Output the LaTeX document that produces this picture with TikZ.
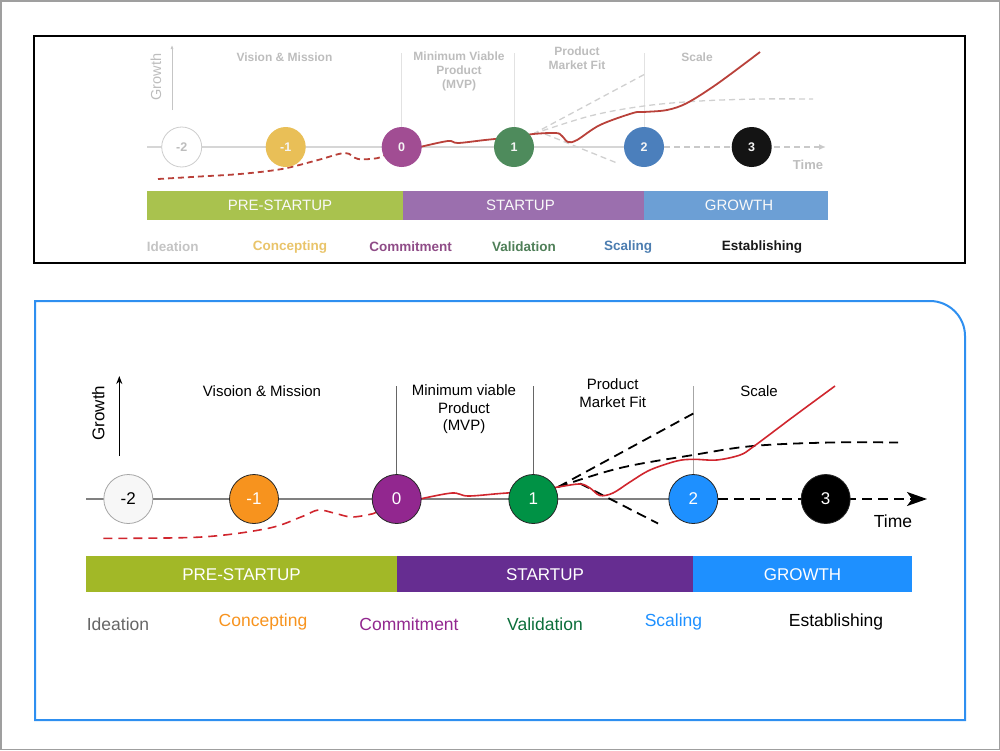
\documentclass[tikz,border=0pt]{standalone}
\usepackage{fontspec}
\setmainfont{Liberation Sans}
\usetikzlibrary{arrows.meta}
\definecolor{tgtext}{HTML}{BDBDBD}
\definecolor{tline}{HTML}{D6D6D6}
\definecolor{tdash}{HTML}{D0D0D0}
\definecolor{tred}{HTML}{B9413A}
\definecolor{tyellow}{HTML}{E9BF57}
\definecolor{tpurple}{HTML}{A14D93}
\definecolor{tgreen}{HTML}{4E8B5C}
\definecolor{tblue}{HTML}{4B7FBC}
\definecolor{tbargreen}{HTML}{A9C24E}
\definecolor{tbarpurple}{HTML}{9B6FAE}
\definecolor{tbarblue}{HTML}{6C9FD5}
\definecolor{tlcon}{HTML}{E9C46A}
\definecolor{tlcom}{HTML}{8F4C87}
\definecolor{tlval}{HTML}{4F7F58}
\definecolor{tlsca}{HTML}{4C7DB0}
\definecolor{bframe}{HTML}{2E8FF0}
\definecolor{bred}{HTML}{D0262E}
\definecolor{borange}{HTML}{F7931E}
\definecolor{bpurple}{HTML}{92278F}
\definecolor{bgreen}{HTML}{009245}
\definecolor{bblue}{HTML}{1E90FF}
\definecolor{bbargreen}{HTML}{A2B827}
\definecolor{bbarpurple}{HTML}{662D91}
\definecolor{bvalid}{HTML}{0B6E3A}
\begin{document}
\begin{tikzpicture}[x=1pt,y=-1pt,
  ttext/.style={text=tgtext,font=\bfseries\fontsize{12}{14}\selectfont,align=center,inner sep=0pt},
  tcirc/.style={circle,minimum size=40pt,inner sep=0pt,text=white!92!gray,font=\bfseries\fontsize{12.5}{14}\selectfont},
  tbar/.style={minimum height=29.7pt,inner sep=0pt,text=white!95!gray,font=\fontsize{15}{17}\selectfont},
  tlab/.style={font=\bfseries\fontsize{13.5}{15}\selectfont,inner sep=0pt},
  btext/.style={text=black,font=\fontsize{15}{17.5}\selectfont,align=center,inner sep=0pt},
  bcirc/.style={circle,minimum size=49pt,inner sep=0pt,draw=black!85,line width=0.8pt,text=white,font=\fontsize{17}{19}\selectfont},
  bbar/.style={minimum height=36.3pt,inner sep=0pt,text=white,font=\fontsize{17}{19}\selectfont},
  blab/.style={font=\fontsize{17.5}{19}\selectfont,inner sep=0pt},
  tdashed/.style={dash pattern=on 6pt off 4pt},
  bdashed/.style={dash pattern=on 10pt off 6pt}
]
\useasboundingbox (0,0) rectangle (1000,750);
% outer frame
\draw[gray!75,line width=1.5pt] (0.75,0.75) rectangle (999.25,749.25);

% ================= TOP PANEL =================
\draw[black,line width=1.2pt] (34,36) rectangle (965,263);

% growth axis
\coordinate (tgb) at (172,110);
\coordinate (tgt) at (172,45);
\draw[tline!80!gray,line width=0.7pt,-{Latex[length=4pt,width=3pt]}] (tgb) -- (tgt);
\node[text=tgtext,font=\fontsize{14.5}{16}\selectfont,rotate=90,inner sep=0pt] (tgrowth) at (156,77) {Growth};

% time axis
\coordinate (tax0) at (147,147);
\coordinate (taxe) at (826,147);
\draw[tline,line width=1.5pt] (tax0) -- (644,147);

% vertical lines
\coordinate (tv0) at (401.7,53);
\coordinate (tv1) at (514,53);
\coordinate (tv2) at (644,53);
\draw[tline!70,line width=0.8pt] (tv0) -- (401.7,130);
\draw[tline!70,line width=0.8pt] (tv1) -- (514,130);
\draw[tline!70,line width=0.8pt] (tv2) -- (644,130);

% labels
\node[ttext] (tvm) at (284.5,57) {Vision \& Mission};
\node[ttext] (tmvp) at (459,71) {Minimum Viable\\Product\\(MVP)};
\node[ttext] (tpmf) at (577,58) {Product\\Market Fit};
\node[ttext] (tscale) at (697,57) {Scale};

% gray dashed alternatives
\draw[tdash,line width=1.3pt,tdashed] (533,134) -- (647,73);
\draw[tdash,line width=1.3pt,tdashed] plot[smooth,tension=0.6] coordinates {(533,134) (590,116) (644,106) (700,101) (760,99) (813,99)};
\draw[tdash,line width=1.3pt,tdashed] (545,134) -- (617,163);

% red curves
\draw[tred,line width=1.8pt,line join=round] plot[smooth,tension=0.55] coordinates {(420,147) (448,141) (458,143) (485,140) (514,137) (533,134) (556,133) (562,136) (568,142) (577,140) (600,125) (633,113) (644,112) (667,110) (687,103) (717,84) (760,52)};
\draw[tred,line width=1.8pt,tdashed] plot[smooth,tension=0.55] coordinates {(158,179) (200,176.5) (240,174) (282,169) (318,160) (345,153) (358,159) (378,158) (388,153)};

% circles
\node[tcirc,fill=white,draw=tline!90!gray,line width=0.8pt,text=tgtext] (tcm2) at (181.7,147) {-2};
\node[tcirc,fill=tyellow] (tcm1) at (285.7,147) {-1};
\node[tcirc,fill=tpurple] (tc0) at (401.7,147) {0};
\node[tcirc,fill=tgreen] (tc1) at (514,147) {1};
\node[tcirc,fill=tblue] (tc2) at (644,147) {2};
\draw[tline!85!gray,line width=1.5pt,tdashed,-{Latex[length=7pt,width=6pt]}] (tc2.east) -- (taxe);
\node[tcirc,fill=black!92] (tc3) at (751.7,147) {3};
\node[text=tgtext,font=\bfseries\fontsize{13}{15}\selectfont,inner sep=0pt] (ttime) at (808,165) {Time};

% bars
\node[tbar,fill=tbargreen,minimum width=256pt] (tpre) at (275,205.6) {\hspace*{10pt}PRE-STARTUP};
\node[tbar,fill=tbarpurple,minimum width=241pt] (tstart) at (523.5,205.6) {\hspace*{-6pt}STARTUP};
\node[tbar,fill=tbarblue,minimum width=184pt] (tgrow) at (736,205.6) {\hspace*{6pt}GROWTH};

% stage labels
\node[tlab,text=tgtext!90!white] (tide) at (172.7,247) {Ideation};
\node[tlab,text=tlcon] (tcon) at (290,247) {Concepting};
\node[tlab,text=tlcom] (tcom) at (410.5,247) {Commitment};
\node[tlab,text=tlval] (tval) at (524,247) {Validation};
\node[tlab,text=tlsca] (tsca) at (628,247) {Scaling};
\node[tlab,text=black!90] (test) at (762,247) {Establishing};

% ================= BOTTOM PANEL =================
\draw[bframe,line width=2pt] (35,720) -- (35,301) -- (930,301) .. controls (949.3,301) and (965,316.7) .. (965,336) -- (965,720) -- cycle;

% growth axis
\coordinate (bgb) at (119.3,456);
\coordinate (bgt) at (119.3,376);
\draw[black,line width=1.3pt,-{Stealth[length=8pt,width=6pt]}] (bgb) -- (bgt);
\node[text=black,font=\fontsize{17}{19}\selectfont,rotate=90,inner sep=0pt] (bgrowth) at (98.3,413) {Growth};

% time axis
\coordinate (bax0) at (86,499);
\coordinate (baxe) at (927,499);
\draw[black!50,line width=1.2pt] (bax0) -- (693.3,499);

% vertical lines
\coordinate (bv0) at (396.7,386);
\coordinate (bv1) at (533.3,386);
\coordinate (bv2) at (693.3,386);
\draw[black!60,line width=0.8pt] (bv0) -- (396.7,480);
\draw[black!60,line width=0.8pt] (bv1) -- (533.3,480);
\draw[black!35,line width=1pt] (bv2) -- (693.3,480);

% labels
\node[btext] (bvm) at (262,391.5) {Visoion \& Mission};
\node[btext,font=\fontsize{15}{17.5}\selectfont] (bmvp) at (464,409.5) {Minimum viable\\Product\\(MVP)};
\node[btext,font=\fontsize{15}{18}\selectfont] (bpmf) at (612.7,393) {Product\\Market Fit};
\node[btext] (bscale) at (759,391.5) {Scale};

% black dashed alternatives
\draw[black,line width=1.8pt,bdashed] (558,487) -- (697,411.5);
\draw[black,line width=1.8pt,bdashed] plot[smooth,tension=0.6] coordinates {(558,487) (620,468) (693,455) (753,446) (830,442.5) (898,442.5)};
\draw[black,line width=1.8pt,bdashed] (580,483.5) -- (658,523.5);

% red curves
\draw[bred,line width=1.6pt,line join=round] plot[smooth,tension=0.55] coordinates {(420,499) (452,493) (468,496) (500,493.5) (533,491) (558,487) (580,484) (590,488) (600,495.5) (613,493) (630,482) (650,470) (676.7,461) (693.3,459.3) (716.7,460) (740,455) (753.3,446.7) (793.3,416.7) (835,386)};
\draw[bred,line width=1.6pt,dash pattern=on 9pt off 6pt] plot[smooth,tension=0.55] coordinates {(103.3,538.3) (201.7,537) (268.3,528.3) (301.7,516.7) (318.3,510) (335,513.3) (351.7,517) (371.7,514) (376,512)};

% circles
\node[bcirc,fill=white!97!black,draw=black!35,text=black] (bcm2) at (128.3,499) {-2};
\node[bcirc,fill=borange] (bcm1) at (254,499) {-1};
\node[bcirc,fill=bpurple] (bc0) at (396.7,499) {0};
\node[bcirc,fill=bgreen] (bc1) at (533.3,499) {1};
\node[bcirc,fill=bblue] (bc2) at (693.3,499) {2};
\draw[black,line width=1.8pt,bdashed,-{Stealth[length=20pt,width=14pt,inset=5pt]}] (bc2.east) -- (baxe);
\node[bcirc,fill=black] (bc3) at (825.7,499) {3};
\node[text=black,font=\fontsize{17.5}{19}\selectfont,inner sep=0pt] (btime) at (893,521.7) {Time};

% bars
\node[bbar,fill=bbargreen,minimum width=311pt] (bpre) at (241.5,574.2) {PRE-STARTUP};
\node[bbar,fill=bbarpurple,minimum width=296pt] (bstart) at (545,574.2) {STARTUP};
\node[bbar,fill=bblue,minimum width=219pt] (bgrow) at (802.5,574.2) {GROWTH};

% stage labels
\node[blab,text=black!60] (bide) at (118,624) {Ideation};
\node[blab,text=borange] (bcon) at (263,622) {Concepting};
\node[blab,text=bpurple] (bcom) at (409,624) {Commitment};
\node[blab,text=bvalid] (bval) at (545,624) {Validation};
\node[blab,text=bblue] (bsca) at (673.5,622) {Scaling};
\node[blab,text=black] (best) at (836,622) {Establishing};
\end{tikzpicture}
\end{document}
